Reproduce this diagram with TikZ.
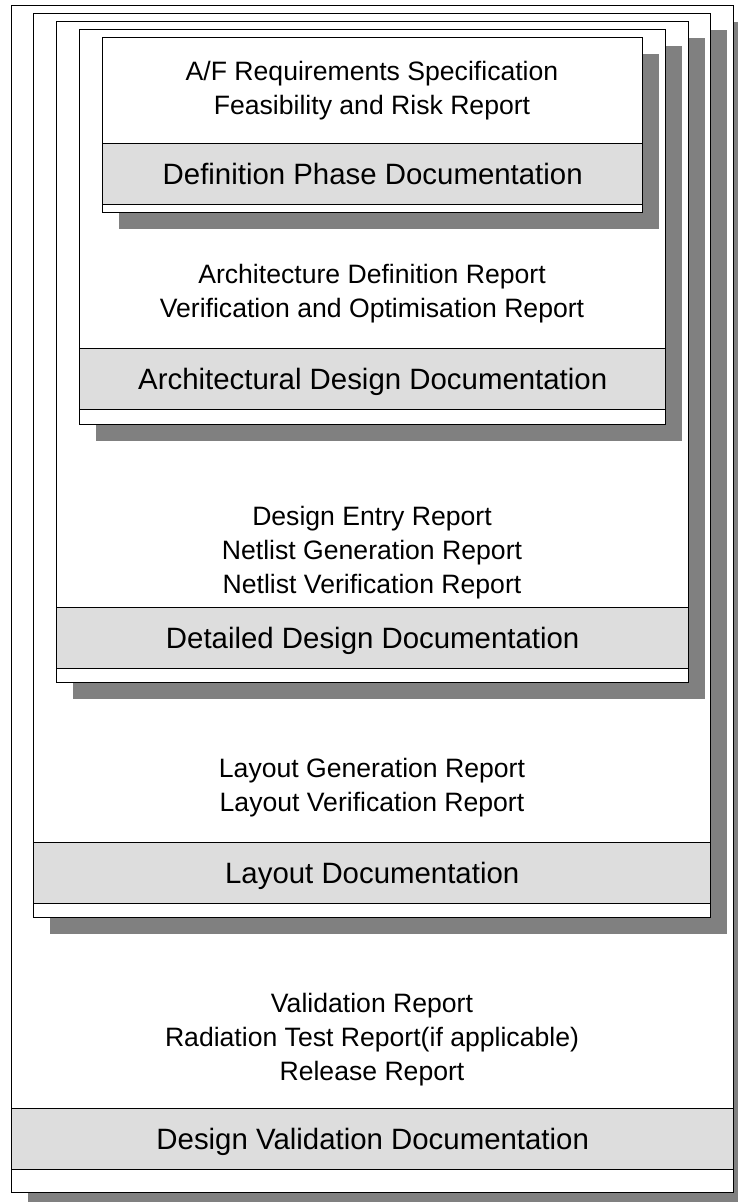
\documentclass[tikz,border=0pt]{standalone}
\usepackage{fontspec}
\setmainfont{Liberation Sans}
\usetikzlibrary{shadows}
\definecolor{inkcolor}{HTML}{000000}
\definecolor{bandfill}{HTML}{DDDDDD}
\definecolor{shadowfill}{HTML}{808080}

\begin{document}
\begin{tikzpicture}[x=1pt, y=-1pt, line width=1.4pt]

\tikzset{
  phaseframe/.style={rectangle, draw=inkcolor, fill=white, inner sep=0pt, anchor=north west,
    drop shadow={shadow xshift=16pt, shadow yshift=-16pt, fill=shadowfill, opacity=1}},
  phaseband/.style={rectangle, draw=inkcolor, fill=bandfill, inner sep=0pt, anchor=north west,
    minimum height=61pt, text height=21pt, text depth=0pt,
    font=\fontsize{29.4}{34}\selectfont},
  phaseitems/.style={align=center, inner sep=0pt, font=\fontsize{26.6}{34}\selectfont},
}

\useasboundingbox (0,0) rectangle (738,1202);

% ---------------------------------------------------------------
% Design validation (outermost)
% ---------------------------------------------------------------
\node[phaseframe, minimum width=722pt, minimum height=1187pt] (valframe) at (11,5) {};
\node[phaseband, minimum width=722pt] (valband) at (11,1108) {Design Validation Documentation};
\node[phaseitems] (valitems) at (372,1040)
  {Validation Report\\Radiation Test Report(if applicable)\\Release Report};

% ---------------------------------------------------------------
% Layout
% ---------------------------------------------------------------
\node[phaseframe, minimum width=677pt, minimum height=904pt] (layframe) at (33,13) {};
\node[phaseband, minimum width=677pt] (layband) at (33,842) {Layout Documentation};
\node[phaseitems] (layitems) at (372,788)
  {Layout Generation Report\\Layout Verification Report};

% ---------------------------------------------------------------
% Detailed design
% ---------------------------------------------------------------
\node[phaseframe, minimum width=632pt, minimum height=661pt] (detframe) at (56,21) {};
\node[phaseband, minimum width=632pt] (detband) at (56,607) {Detailed Design Documentation};
\node[phaseitems] (detitems) at (372,553)
  {Design Entry Report\\Netlist Generation Report\\Netlist Verification Report};

% ---------------------------------------------------------------
% Architectural design
% ---------------------------------------------------------------
\node[phaseframe, minimum width=586pt, minimum height=395pt] (arcframe) at (79,29) {};
\node[phaseband, minimum width=586pt] (arcband) at (79,348) {Architectural Design Documentation};
\node[phaseitems] (arcitems) at (372,294)
  {Architecture Definition Report\\Verification and Optimisation Report};

% ---------------------------------------------------------------
% Definition phase (innermost)
% ---------------------------------------------------------------
\node[phaseframe, minimum width=540pt, minimum height=175pt] (defframe) at (102,37) {};
\node[phaseband, minimum width=540pt] (defband) at (102,143) {Definition Phase Documentation};
\node[phaseitems] (defitems) at (372,91)
  {A/F Requirements Specification\\Feasibility and Risk Report};

\end{tikzpicture}
\end{document}
